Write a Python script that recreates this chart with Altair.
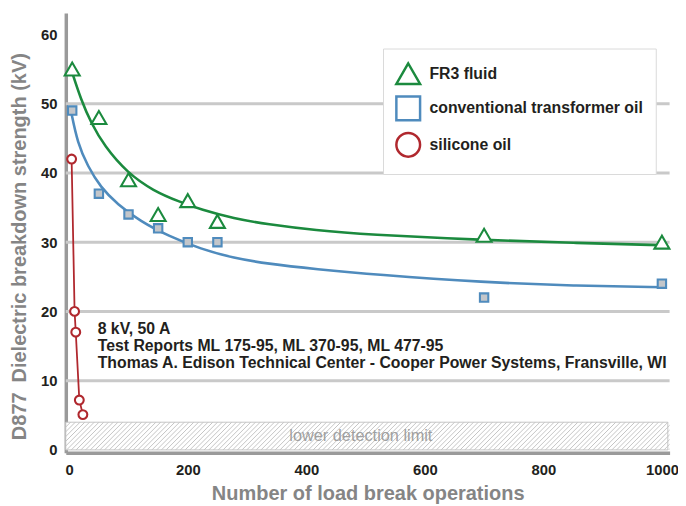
import altair as alt
import pandas as pd

# ---------------- data ----------------
series_names = ["FR3 fluid", "conventional transformer oil", "silicone oil"]
series_colors = ["#1b8a3e", "#4f8bbd", "#b0282e"]
series_shapes = ["triangle-up", "square", "circle"]
series_fills = ["#ffffff", "#c3c6ca", "#ffffff"]
series_sizes = [230, 72, 80]

fr3_ops = [5, 50, 100, 150, 200, 250, 700, 1000]
fr3_kv = [55, 48, 39, 34, 36, 33, 31, 30]
oil_ops = [5, 50, 100, 150, 200, 250, 700, 1000]
oil_kv = [49, 37, 34, 32, 30, 30, 22, 24]
sil_ops = [4, 9, 11, 17, 23]
sil_kv = [42, 20, 17, 7.2, 5.1]

# fitted trend curves
fr3_fit_ops = [3, 20, 37, 59, 98, 142, 187, 222, 278, 333, 417, 500, 700, 850, 1005]
fr3_fit_kv = [55.0, 50.5, 47.2, 43.9, 40.0, 37.4, 35.8, 34.7, 33.4, 32.6, 31.7, 31.1, 30.3, 29.9, 29.55]
oil_fit_ops = [3, 14, 31, 53, 81, 120, 167, 222, 278, 333, 417, 517, 700, 850, 1005]
oil_fit_kv = [48.9, 44.3, 41.0, 37.9, 35.5, 33.0, 30.9, 29.0, 27.7, 26.9, 26.1, 25.3, 24.2, 23.7, 23.5]

x_ticks = [0, 200, 400, 600, 800, 1000]
y_ticks = [0, 10, 20, 30, 40, 50, 60]
grid_levels = [10, 20, 30, 40, 50]
detection_limit = 4
band_end = 1010
note_lines = [
    "8 kV, 50 A",
    "Test Reports ML 175-95, ML 370-95, ML 477-95",
    "Thomas A. Edison Technical Center - Cooper Power Systems, Fransville, WI",
]
band_label = "lower detection limit"

# ---------------- styling ----------------
FONT = "Liberation Sans"
X_MIN, X_MAX = -5.8, 1013
Y_MIN, Y_MAX = -0.4, 63.1
x_scale = alt.Scale(domain=[X_MIN, X_MAX], nice=False, zero=False)
y_scale = alt.Scale(domain=[Y_MIN, Y_MAX], nice=False, zero=False)

x_axis = alt.Axis(
    title="Number of load break operations", values=x_ticks, format="d", grid=False, ticks=False,
    domainColor="#9a9a9a", domainWidth=3.5, labelFont=FONT, labelFontSize=15,
    labelFontWeight="bold", labelColor="#231f20", labelPadding=10, labelFlush=False,
    titleFont=FONT, titleFontSize=20.2, titleFontWeight="bold", titleColor="#858585",
    titleBaseline="middle", titleY=41,
)
y_axis = alt.Axis(
    title="D877\u2002Dielectric breakdown strength (kV)", values=y_ticks, grid=False,
    ticks=False, domainColor="#9a9a9a", domainWidth=3.5, labelFont=FONT,
    labelFontSize=15, labelFontWeight="bold", labelColor="#231f20", labelPadding=9,
    titleFont=FONT, titleFontSize=20.2, titleFontWeight="bold", titleColor="#858585",
    titleAngle=270, titleBaseline="middle", titleAlign="center", titleX=-47, titleY=236,
)


def X(field):
    return alt.X(field, type="quantitative", scale=x_scale, axis=x_axis)


def Y(field):
    return alt.Y(field, type="quantitative", scale=y_scale, axis=y_axis)


# ---------------- tables ----------------
series_x = [fr3_ops, oil_ops, sil_ops]
series_y = [fr3_kv, oil_kv, sil_kv]
series_tables = [pd.DataFrame({"ops": xs, "kv": ys, "series": name})
                 for xs, ys, name in zip(series_x, series_y, series_names)]
points = pd.concat(series_tables, ignore_index=True)
fr3_fit = pd.DataFrame({"ops": fr3_fit_ops, "kv": fr3_fit_kv})
oil_fit = pd.DataFrame({"ops": oil_fit_ops, "kv": oil_fit_kv})
sil_line = pd.DataFrame({"ops": sil_ops, "kv": sil_kv})
grid = pd.DataFrame({"kv": grid_levels})
band = pd.DataFrame({"x0": [X_MIN], "x1": [band_end], "y0": [0], "y1": [detection_limit]})

# hatch texture of the detection-limit band (decoration only)
hatch_step = 8.0
hatch_run = detection_limit * 7.0 / 0.6
hatch_x0 = [X_MIN - hatch_run + i * hatch_step for i in range(int((X_MAX - X_MIN + hatch_run) / hatch_step) + 2)]
hatch = pd.DataFrame({"x0": hatch_x0, "x1": [v + hatch_run for v in hatch_x0],
                      "y0": 0, "y1": detection_limit})

# ---------------- layers ----------------
band_rect = alt.Chart(band).mark_rect(fill="white", stroke="#c4c4c4", strokeWidth=1).encode(
    x=X("x0"), x2="x1", y=Y("y0"), y2="y1")
hatch_lines = alt.Chart(hatch).mark_rule(clip=True, stroke="#c4c4c4", strokeWidth=1).encode(
    x=X("x0"), x2="x1", y=Y("y0"), y2="y1")
band_text = alt.Chart(band).mark_text(
    text=band_label, font=FONT, fontSize=16.5, color="#a0a0a0", align="center", baseline="middle"
).transform_calculate(xm="492", ym="2").encode(x=X("xm:Q"), y=Y("ym:Q"))

grid_rules = alt.Chart(grid).mark_rule(stroke="#c9c9c9", strokeWidth=3).encode(y=Y("kv"))

fr3_curve = alt.Chart(fr3_fit).mark_line(color=series_colors[0], strokeWidth=2.6,
                                         interpolate="basis").encode(x=X("ops"), y=Y("kv"))
oil_curve = alt.Chart(oil_fit).mark_line(color=series_colors[1], strokeWidth=2.6,
                                         interpolate="basis").encode(x=X("ops"), y=Y("kv"))
sil_curve = alt.Chart(sil_line).mark_line(color=series_colors[2], strokeWidth=1.8).encode(
    x=X("ops"), y=Y("kv"))

# visible markers, one layer per series
marker_layers = [
    alt.Chart(tbl).mark_point(shape=shp, size=sz, fill=fl, stroke=col, strokeWidth=2.1,
                              opacity=1, fillOpacity=1, strokeOpacity=1).encode(
        x=X("ops"), y=Y("kv"))
    for tbl, shp, sz, fl, col in zip(series_tables, series_shapes, series_sizes, series_fills, series_colors)
]

# invisible layer that only carries the legend
legend_spec = alt.Legend(
    title=None, orient="none", legendX=321, legendY=36, fillColor="white",
    strokeColor="#d9d9d9", padding=12, symbolSize=576, symbolStrokeWidth=2.5,
    symbolOpacity=1, labelFont=FONT, labelFontSize=16, labelFontWeight="bold",
    labelLimit=400, labelColor="#231f20", rowPadding=2, labelOffset=8,
)
legend_layer = alt.Chart(points).mark_point(opacity=0, strokeWidth=2.5).encode(
    x=X("ops"), y=Y("kv"),
    shape=alt.Shape("series:N", scale=alt.Scale(domain=series_names, range=series_shapes), legend=legend_spec),
    color=alt.Color("series:N", scale=alt.Scale(domain=series_names, range=series_colors), legend=legend_spec),
)

note = alt.Chart(band).mark_text(
    text=note_lines, font=FONT, fontSize=16, fontWeight="bold", color="#231f20",
    align="left", baseline="top", lineHeight=17.5,
).transform_calculate(xm="48", ym="18.65").encode(x=X("xm:Q"), y=Y("ym:Q"))

chart = alt.layer(
    band_rect, hatch_lines, band_text, grid_rules, fr3_curve, oil_curve, sil_curve,
    *marker_layers, legend_layer, note
).properties(
    width=611, height=445,
    autosize=alt.AutoSizeParams(type="none"),
    padding={"left": 58.5, "top": 2, "right": 8.5, "bottom": 54},
    background="white",
).configure_view(stroke=None)

chart.save("out.html", embed_options={"renderer": "svg", "actions": False})
